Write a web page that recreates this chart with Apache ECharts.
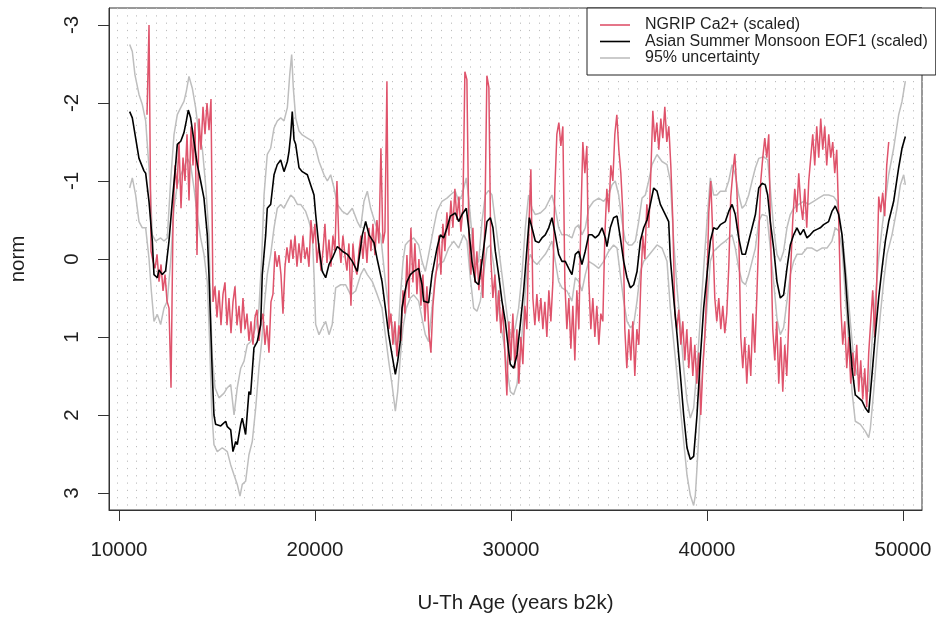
<!DOCTYPE html>
<html>
<head>
<meta charset="utf-8">
<script src="https://cdn.jsdelivr.net/npm/echarts@6/dist/echarts.min.js"></script>
<style>
html,body{margin:0;padding:0;background:#fff;}
#chart{width:936px;height:619px;}
</style>
</head>
<body>
<div id="chart"></div>
<script>
// ---- Data ----
const xTicks = [10000, 20000, 30000, 40000, 50000];
const yTicks = [-3, -2, -1, 0, 1, 2, 3];
const xTitle = 'U-Th Age (years b2k)';
const yTitle = 'norm';
const names = ['NGRIP Ca2+ (scaled)', 'Asian Summer Monsoon EOF1 (scaled)', '95% uncertainty'];

// NGRIP Ca2+ (scaled): sampled every ngripStep years from ngripStart
const ngripStart = 11430, ngripStep = 102;
const ngripCa = [
-1.85,-3.0,-0.1,0.03,0.12,-0.06,0.29,0.07,0.41,0.2,
0.54,0.63,1.65,-0.5,-1.2,-0.9,-1.5,-0.65,-1.3,-1.0,
-1.6,-0.75,-1.7,-1.2,-1.75,-0.05,-1.8,-1.4,-1.95,-1.6,
-2.0,-1.65,-2.05,0.55,0.35,0.75,0.4,0.85,0.45,0.3,
0.85,0.5,0.95,0.55,0.35,0.85,0.6,0.95,0.5,0.9,
0.7,1.05,0.8,1.1,0.75,0.65,1.05,0.8,0.7,1.1,
0.85,1.2,0.55,0.45,-0.1,0.1,-0.05,0.2,0.7,0.1,
-0.15,0.05,-0.25,0.0,-0.3,0.1,-0.2,0.05,-0.3,0.0,
-0.15,0.1,-0.5,-0.2,-0.45,0.05,-0.2,0.15,-0.1,-0.45,
0.05,-0.25,0.1,-0.3,-0.1,-1.0,-0.2,0.05,-0.3,-0.05,
0.15,-0.2,0.6,-0.2,0.1,0.2,-0.1,-0.3,0.0,-0.35,
0.05,-0.4,-0.1,-0.45,-0.05,-0.5,-0.2,-1.42,-0.2,-0.35,
-2.28,0.9,0.7,1.1,0.8,1.25,0.85,1.05,0.4,0.7,
-0.05,0.5,-0.4,0.3,-0.2,0.45,0.0,0.6,0.2,0.8,
0.35,0.95,1.2,0.6,0.3,0.1,-0.3,0.2,-0.45,-0.1,
-0.6,-0.3,-0.75,-0.4,-0.9,-0.5,-0.8,-0.35,-0.65,-2.4,
-2.3,-0.3,0.2,-0.4,0.3,-0.1,0.4,0.0,0.5,-0.5,
-2.35,-2.2,0.0,0.5,0.2,0.8,0.4,0.95,0.6,1.2,
1.75,0.8,1.3,0.7,1.4,0.9,1.6,1.0,1.35,0.6,
0.9,-0.4,-1.15,0.5,0.85,0.45,0.8,0.5,0.9,0.55,
1.0,0.4,0.8,0.3,-0.9,-1.6,-1.75,-1.45,-1.7,0.3,
0.9,0.5,1.15,0.6,1.3,0.4,0.9,-0.5,-1.5,-1.1,
-1.45,0.3,0.9,0.5,1.0,0.6,1.1,0.7,0.8,-0.3,
-0.9,-0.6,-1.2,-1.0,-1.6,-1.85,-1.4,-1.1,-0.6,0.9,
1.4,0.9,1.3,0.8,1.5,0.9,1.1,0.3,-0.3,0.0,
-0.7,-0.4,-1.1,-1.9,-1.5,-1.75,-1.4,-1.8,-1.55,-1.95,
-1.5,-1.7,-1.2,-0.5,0.7,0.9,0.65,1.1,0.8,1.3,
0.9,1.4,1.0,1.5,1.1,1.6,1.2,2.0,1.4,1.0,
0.4,-0.6,-1.0,-0.3,0.5,0.8,0.5,0.9,0.6,0.95,
0.7,0.1,-0.8,-1.1,-1.35,-0.9,-0.3,1.0,1.4,1.0,
1.6,1.1,1.5,0.7,1.2,0.5,-0.3,-1.0,-1.3,-1.55,
-1.3,-1.6,-0.2,0.9,1.3,0.8,1.6,1.0,1.7,1.1,
1.5,0.8,0.1,-0.5,-0.9,-0.6,-1.1,-0.7,-0.5,-0.9,
-0.4,-1.0,-1.3,-1.6,-1.2,-1.7,-1.3,-1.8,-1.4,-1.7,
-1.2,-1.6,-1.3,-1.5,-1.1,-1.4,-0.5,0.6,1.1,0.8,
1.4,1.0,1.6,1.2,1.5,1.1,1.7,1.3,1.8,1.4,
1.9,1.2,0.8,0.4,1.0,0.3,-0.8,-0.6,-0.85,-0.55,
-1.2,-1.5
];

// Asian Summer Monsoon EOF1 (scaled): [age, value]
const eof1 = [
[10545,-1.89],[10680,-1.81],[11020,-1.29],[11275,-1.13],[11360,-1.10],[11530,-0.74],[11700,-0.23],[11785,0.20],[11955,0.24],[12040,0.14],
[12210,0.20],[12380,0.15],[12550,-0.23],[12720,-0.74],[12890,-1.21],[12975,-1.47],[13150,-1.51],[13315,-1.62],[13435,-1.77],[13535,-1.91],
[13655,-1.81],[13825,-1.51],[13995,-1.21],[14165,-1.00],[14335,-0.78],[14505,-0.31],[14590,0.20],[14675,0.84],[14760,1.48],[14845,2.0],
[14930,2.12],[15190,2.14],[15445,2.08],[15525,2.15],[15700,2.19],[15815,2.47],[15955,2.34],[16035,2.38],[16210,2.12],[16290,2.04],
[16460,2.25],[16630,1.70],[16715,1.74],[16885,1.14],[17055,1.06],[17230,0.84],[17310,0.20],[17485,-0.31],[17565,-0.65],[17740,-0.70],
[17910,-1.08],[18075,-1.21],[18250,-1.27],[18420,-1.12],[18590,-1.25],[18675,-1.38],[18760,-1.59],[18840,-1.89],[18930,-1.53],[19015,-1.47],
[19185,-1.17],[19350,-1.12],[19610,-1.08],[19780,-0.95],[19950,-0.82],[20035,-0.57],[20205,-0.14],[20370,0.16],[20545,0.24],[20715,0.07],
[20880,-0.01],[21140,-0.16],[21395,-0.10],[21650,-0.06],[21905,0.03],[22160,0.16],[22415,-0.31],[22585,-0.48],[22755,-0.31],[23010,-0.21],
[23180,0.01],[23420,0.29],[23590,0.63],[23760,0.97],[23930,1.23],[24100,1.48],[24220,1.31],[24350,1.06],[24440,0.63],[24555,0.46],
[24695,0.29],[24865,0.20],[25035,0.16],[25290,0.12],[25460,0.33],[25545,0.54],[25800,0.56],[25970,0.20],[26225,-0.14],[26395,-0.31],
[26565,-0.27],[26735,-0.40],[26905,-0.55],[27160,-0.59],[27330,-0.48],[27500,-0.57],[27720,-0.65],[27840,-0.40],[28010,0.03],[28180,0.29],
[28350,0.33],[28520,0.03],[28690,-0.31],[28775,-0.48],[28945,-0.53],[29080,-0.40],[29200,-0.10],[29370,0.20],[29540,0.54],[29710,0.80],
[29880,1.18],[29965,1.35],[30135,1.40],[30305,1.23],[30475,0.84],[30645,0.41],[30815,-0.14],[30935,-0.53],[31070,-0.40],[31240,-0.23],
[31415,-0.21],[31580,-0.27],[31750,-0.31],[31925,-0.40],[32090,-0.53],[32260,-0.31],[32435,-0.06],[32600,0.03],[32770,0.03],[32945,0.12],
[33110,0.20],[33280,-0.06],[33455,-0.10],[33620,0.07],[33790,-0.10],[33965,-0.31],[34135,-0.31],[34300,-0.27],[34475,-0.31],[34645,-0.40],
[34815,-0.27],[34895,-0.16],[35065,-0.40],[35235,-0.53],[35410,-0.55],[35580,-0.27],[35750,0.03],[35920,0.24],[36090,0.37],[36260,0.33],
[36430,0.16],[36600,-0.23],[36770,-0.40],[36940,-0.50],[37110,-0.70],[37280,-0.91],[37450,-0.87],[37620,-0.70],[37875,-0.57],[38045,-0.48],
[38130,-0.01],[38300,0.50],[38470,0.97],[38640,1.48],[38810,2.0],[38980,2.42],[39150,2.57],[39320,2.53],[39490,2.0],[39660,1.27],
[39830,0.63],[40000,0.20],[40170,-0.23],[40340,-0.40],[40510,-0.38],[40680,-0.44],[40935,-0.48],[41110,-0.61],[41280,-0.70],[41445,-0.57],
[41620,-0.27],[41790,-0.06],[41960,-0.06],[42130,-0.23],[42300,-0.40],[42470,-0.57],[42640,-0.91],[42810,-0.97],[42975,-0.95],[43095,-0.82],
[43230,-0.48],[43400,-0.14],[43570,0.29],[43740,0.50],[43910,0.46],[44080,0.12],[44250,-0.18],[44420,-0.31],[44590,-0.40],[44760,-0.31],
[44930,-0.38],[45100,-0.27],[45270,-0.31],[45440,-0.36],[45610,-0.38],[45780,-0.40],[45950,-0.44],[46205,-0.48],[46375,-0.61],[46545,-0.68],
[46720,-0.57],[46890,-0.31],[47055,0.20],[47230,0.84],[47400,1.40],[47565,1.74],[47740,1.78],[47910,1.82],[48080,1.91],[48250,1.97],
[48420,1.48],[48590,0.97],[48760,0.50],[48930,0.12],[49100,-0.23],[49270,-0.48],[49525,-0.74],[49780,-1.17],[49950,-1.42],[50120,-1.57]
];

// 95% uncertainty, upper bound (more negative side)
const eofUpper = [
[10545,-2.75],[10680,-2.66],[10815,-2.36],[11020,-2.11],[11190,-1.98],[11360,-1.77],[11530,-1.17],[11615,-0.82],[11700,-0.31],[11870,-0.23],
[12125,-0.27],[12295,-0.23],[12465,-0.27],[12635,-1.0],[12805,-1.59],[12975,-1.85],[13150,-1.94],[13315,-2.02],[13435,-2.15],[13570,-2.34],
[13740,-2.19],[13910,-1.94],[14080,-1.59],[14250,-1.42],[14420,-0.95],[14590,-0.31],[14675,0.63],[14760,1.27],[14900,1.65],[15100,1.78],
[15360,1.72],[15525,1.65],[15700,1.61],[15870,2.0],[16035,1.65],[16210,1.40],[16380,1.31],[16545,1.10],[16715,1.06],[16975,0.88],
[17140,0.63],[17280,-0.01],[17400,-0.82],[17565,-1.34],[17740,-1.42],[17910,-1.68],[18075,-1.77],[18250,-1.81],[18420,-1.77],[18590,-1.94],
[18710,-2.36],[18810,-2.62],[18895,-2.19],[19015,-1.81],[19185,-1.64],[19350,-1.59],[19610,-1.55],[19865,-1.51],[20035,-1.42],[20205,-1.25],
[20460,-1.08],[20630,-1.0],[20800,-1.08],[20970,-0.91],[21140,-0.70],[21395,-0.61],[21650,-0.57],[21905,-0.65],[22160,-0.48],[22330,-0.40],
[22500,-0.74],[22670,-0.87],[22840,-0.65],[23095,-0.44],[23350,-0.31],[23590,0.29],[23760,0.63],[23930,0.84],[24100,1.10],[24220,1.06],
[24350,0.50],[24490,0.03],[24610,-0.18],[24780,-0.23],[25035,-0.27],[25290,-0.18],[25460,0.03],[25630,0.16],[25800,-0.06],[26055,-0.40],
[26225,-0.61],[26480,-0.74],[26735,-0.78],[26990,-0.84],[27160,-0.87],[27330,-0.74],[27500,-0.82],[27720,-1.04],[27840,-0.78],[28010,-0.31],
[28180,0.07],[28350,0.03],[28520,-0.48],[28690,-0.82],[28860,-0.88],[29030,-0.82],[29200,-0.48],[29370,-0.14],[29540,0.20],[29710,0.54],
[29880,0.88],[30050,1.01],[30220,0.88],[30390,0.63],[30560,0.20],[30730,-0.40],[30900,-0.82],[31070,-0.65],[31240,-0.57],[31500,-0.59],
[31750,-0.65],[31925,-0.74],[32090,-0.82],[32260,-0.65],[32435,-0.40],[32600,-0.31],[32855,-0.31],[33110,-0.27],[33280,-0.40],[33455,-0.44],
[33620,-0.31],[33790,-0.40],[33965,-0.65],[34215,-0.74],[34475,-0.78],[34730,-0.74],[34985,-0.82],[35150,-0.95],[35320,-1.0],[35495,-0.82],
[35665,-0.48],[35835,-0.23],[36005,-0.18],[36175,-0.18],[36345,-0.23],[36515,-0.48],[36685,-0.78],[36855,-0.82],[37025,-1.0],[37195,-1.21],
[37450,-1.34],[37705,-1.25],[37960,-1.21],[38130,-1.0],[38300,-0.23],[38470,0.37],[38640,0.84],[38810,1.40],[38980,1.82],[39150,2.04],
[39320,1.91],[39490,1.40],[39660,0.76],[39830,0.12],[40000,-0.48],[40170,-1.04],[40340,-0.82],[40510,-0.82],[40680,-0.87],[40935,-0.87],
[41110,-1.0],[41280,-1.21],[41445,-1.08],[41620,-0.82],[41790,-0.65],[41960,-0.70],[42130,-0.82],[42300,-1.0],[42470,-1.17],[42640,-1.29],
[42895,-1.31],[43095,-1.27],[43230,-0.91],[43400,-0.40],[43570,-0.06],[43740,0.03],[43910,-0.10],[44080,-0.40],[44250,-0.57],[44420,-0.65],
[44675,-0.70],[44930,-0.74],[45185,-0.70],[45440,-0.74],[45695,-0.78],[45950,-0.82],[46205,-0.82],[46460,-0.80],[46630,-0.74],[46800,-0.48],
[46970,-0.14],[47140,0.29],[47310,0.80],[47480,1.27],[47650,1.48],[47910,1.52],[48080,1.61],[48250,1.70],[48420,1.06],[48590,0.50],
[48760,-0.01],[48930,-0.40],[49100,-0.74],[49270,-1.08],[49525,-1.42],[49780,-1.85],[49950,-2.02],[50120,-2.28]
];

// 95% uncertainty, lower bound (more positive side)
const eofLower = [
[10545,-0.91],[10680,-1.04],[10850,-0.82],[11020,-0.48],[11190,-0.40],[11360,-0.40],[11530,-0.01],[11650,0.41],[11785,0.80],[11955,0.71],
[12125,0.84],[12295,0.63],[12465,0.54],[12635,0.03],[12805,-0.65],[12975,-0.95],[13150,-1.08],[13315,-1.17],[13485,-1.29],[13655,-1.21],
[13825,-0.91],[13995,-0.57],[14165,-0.27],[14335,-0.06],[14505,0.29],[14625,1.06],[14725,1.91],[14845,2.38],[15015,2.47],[15270,2.42],
[15525,2.47],[15700,2.64],[15870,2.77],[16035,2.89],[16175,3.04],[16290,2.89],[16460,2.85],[16630,2.51],[16800,2.34],[16975,1.91],
[17140,1.40],[17280,1.06],[17400,0.63],[17565,0.20],[17740,-0.06],[17910,-0.40],[18075,-0.65],[18250,-0.70],[18420,-0.65],[18590,-0.74],
[18760,-0.82],[18930,-0.78],[19100,-0.70],[19270,-0.70],[19525,-0.61],[19695,-0.48],[19865,-0.31],[19950,0.20],[20035,0.84],[20205,0.97],
[20370,0.88],[20545,0.80],[20715,0.97],[20880,0.84],[21055,0.37],[21310,0.33],[21565,0.33],[21820,0.46],[22075,0.41],[22330,0.20],
[22500,0.12],[22670,0.20],[22925,0.29],[23180,0.46],[23420,0.63],[23590,0.97],[23760,1.31],[23930,1.61],[24100,1.95],[24220,1.70],
[24350,1.27],[24490,0.88],[24660,0.63],[24865,0.50],[25035,0.46],[25290,0.54],[25460,0.76],[25630,0.97],[25800,1.06],[25970,0.63],
[26140,0.20],[26310,0.07],[26565,0.03],[26820,-0.14],[27075,-0.23],[27330,-0.14],[27585,-0.31],[27755,-0.23],[27925,0.24],[28095,0.63],
[28265,0.67],[28435,0.54],[28605,0.20],[28775,-0.14],[28945,-0.18],[29115,0.07],[29285,0.46],[29455,0.80],[29625,1.06],[29795,1.40],
[29965,1.70],[30135,1.74],[30305,1.61],[30475,1.23],[30645,0.71],[30815,0.12],[30985,-0.06],[31155,0.03],[31325,0.07],[31580,-0.01],
[31750,-0.06],[31925,-0.14],[32090,-0.23],[32260,0.03],[32435,0.29],[32600,0.37],[32855,0.41],[33110,0.54],[33280,0.24],[33455,0.29],
[33620,0.41],[33790,0.20],[33965,0.03],[34215,0.07],[34475,0.12],[34730,0.03],[34985,-0.10],[35235,-0.18],[35410,-0.14],[35580,0.20],
[35750,0.54],[35920,0.80],[36090,0.88],[36260,0.84],[36430,0.54],[36600,0.16],[36770,0.03],[36940,-0.02],[37195,-0.10],[37450,-0.18],
[37705,-0.14],[37960,0.03],[38130,0.63],[38300,1.06],[38470,1.48],[38640,1.91],[38810,2.34],[38980,2.77],[39150,3.03],[39320,3.16],
[39405,3.03],[39490,2.68],[39660,1.91],[39830,1.18],[40000,0.63],[40170,0.03],[40340,-0.10],[40510,-0.14],[40680,-0.18],[40935,-0.23],
[41110,-0.27],[41280,-0.31],[41445,-0.14],[41620,0.12],[41790,0.29],[41960,0.33],[42130,0.20],[42300,0.03],[42470,-0.14],[42640,-0.48],
[42810,-0.57],[43065,-0.55],[43230,-0.14],[43400,0.29],[43570,0.76],[43740,0.97],[43910,0.88],[44080,0.54],[44250,0.20],[44420,0.03],
[44590,-0.06],[44845,-0.06],[45100,-0.14],[45355,-0.14],[45610,-0.10],[45865,-0.14],[46120,-0.14],[46375,-0.23],[46545,-0.40],[46720,-0.36],
[46890,-0.14],[47055,0.46],[47230,1.06],[47400,1.70],[47565,2.08],[47825,2.12],[48080,2.21],[48250,2.29],[48335,2.17],[48505,1.70],
[48675,1.18],[48845,0.71],[49015,0.29],[49185,-0.06],[49440,-0.31],[49695,-0.65],[49865,-0.95],[50035,-1.08],[50120,-0.95]
];

// ---- Chart ----
const ngripData = ngripCa.map((v, i) => [ngripStart + i * ngripStep, v]);

const FONT = '"Liberation Sans", Arial, Helvetica, sans-serif';
const TXT = '#1f1f1f';
const RED = '#DF536B', GRAY = '#BEBEBE', BLACK = '#000000';

const chart = echarts.init(document.getElementById('chart'), null, {renderer: 'canvas'});
chart.setOption({
  animation: false,
  backgroundColor: '#ffffff',
  textStyle: {fontFamily: FONT},
  grid: [
    {left: 107, top: 8, width: 815, height: 502, show: true, borderColor: '#333', borderWidth: 1, backgroundColor: 'transparent', containLabel: false},
    {left: 117, top: 8, width: 805, height: 502, show: false, containLabel: false}
  ],
  xAxis: [
    {
      type: 'value', gridIndex: 0, min: 9490, max: 50970,
      name: xTitle, nameLocation: 'middle', nameGap: 83,
      nameTextStyle: {fontSize: 20.5, color: TXT, fontFamily: FONT},
      axisLine: {show: true, onZero: false, lineStyle: {color: '#333', width: 1}},
      axisTick: {show: true, length: 11, customValues: xTicks, lineStyle: {color: '#333', width: 1}},
      axisLabel: {show: true, customValues: xTicks, margin: 30, fontSize: 20.5, color: TXT, fontFamily: FONT,
                  formatter: v => String(Math.round(v))},
      splitLine: {show: false}
    },
    {
      type: 'value', gridIndex: 1, min: 10000, max: 50970, interval: 500,
      axisLine: {show: false}, axisTick: {show: false}, axisLabel: {show: false},
      splitLine: {show: true, lineStyle: {color: '#bdbdbd', width: 1, type: [1.2, 6.1]}}
    }
  ],
  yAxis: [
    {
      type: 'value', gridIndex: 0, inverse: true, min: -3.218, max: 3.218,
      name: yTitle, nameLocation: 'middle', nameGap: 80,
      nameTextStyle: {fontSize: 20.5, color: TXT, fontFamily: FONT},
      axisLine: {show: true, onZero: false, lineStyle: {color: '#333', width: 1}},
      axisTick: {show: true, length: 11, customValues: yTicks, lineStyle: {color: '#333', width: 1}},
      axisLabel: {show: true, customValues: yTicks, rotate: 90, margin: 26, fontSize: 20.5, color: TXT, fontFamily: FONT,
                  formatter: v => String(Math.round(v))},
      splitLine: {show: false}
    },
    {
      type: 'value', gridIndex: 1, min: 0, max: 1, show: false,
      splitLine: {show: false}
    }
  ],
  legend: {
    show: true,
    left: 587, top: 8,
    orient: 'vertical',
    data: names,
    selectedMode: false,
    backgroundColor: '#ffffff',
    borderColor: '#222', borderWidth: 1, borderRadius: 0,
    padding: [9, 8, 9, 13],
    itemGap: 0.5,
    itemWidth: 30, itemHeight: 1.6,
    icon: 'rect',
    formatter: '{t|{name}}',
    textStyle: {
      color: TXT, fontSize: 16, fontFamily: FONT,
      rich: {t: {fontSize: 16, fontFamily: FONT, color: TXT, padding: [0, 0, 0, 10], lineHeight: 18}}
    },
    z: 10
  },
  series: [
    {name: names[2], type: 'line', xAxisIndex: 0, yAxisIndex: 0, data: eofUpper, showSymbol: false, symbol: 'none',
     color: GRAY, lineStyle: {color: GRAY, width: 1.5}, itemStyle: {color: GRAY}, z: 2, silent: true},
    {name: names[2], type: 'line', xAxisIndex: 0, yAxisIndex: 0, data: eofLower, showSymbol: false, symbol: 'none',
     color: GRAY, lineStyle: {color: GRAY, width: 1.5}, itemStyle: {color: GRAY}, z: 2, silent: true},
    {name: names[0], type: 'line', xAxisIndex: 0, yAxisIndex: 0, data: ngripData, showSymbol: false, symbol: 'none',
     color: RED, lineStyle: {color: RED, width: 1.5}, itemStyle: {color: RED}, z: 3, silent: true},
    {name: names[1], type: 'line', xAxisIndex: 0, yAxisIndex: 0, data: eof1, showSymbol: false, symbol: 'none',
     color: BLACK, lineStyle: {color: BLACK, width: 1.6}, itemStyle: {color: BLACK}, z: 4, silent: true}
  ]
});
</script>
</body>
</html>
